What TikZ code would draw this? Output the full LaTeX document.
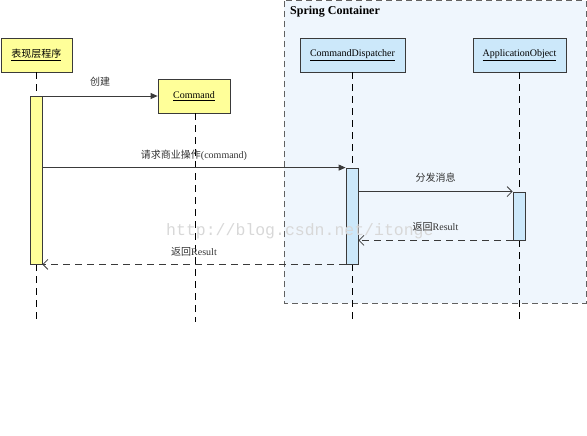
\documentclass[tikz,border=0pt]{standalone}
\usepackage{fontspec}
\setmainfont{Liberation Serif}
\newfontfamily\cjk{Noto Sans CJK SC}
\newfontfamily\wmfont{Liberation Mono}
\usetikzlibrary{arrows.meta}
\definecolor{yel}{HTML}{FFFF99}
\definecolor{blu}{HTML}{CCE8FA}
\definecolor{cont}{HTML}{EFF6FD}
\definecolor{edge}{HTML}{3A3A3A}
\definecolor{wm}{HTML}{D8D8D8}
\tikzset{
  objbox/.style={draw=edge, line width=0.8pt, minimum height=34pt, inner sep=0pt, font=\fontsize{10}{12}\selectfont},
  ybox/.style={objbox, fill=yel},
  bbox/.style={objbox, fill=blu},
  lifeline/.style={draw=black, line width=0.8pt, dash pattern=on 7pt off 5pt},
  actbar/.style={draw=edge, line width=0.8pt, minimum width=12pt, inner sep=0pt},
  msg/.style={draw=edge, line width=0.8pt, -{Triangle[length=7pt,width=6pt]}},
  msgopen/.style={draw=edge, line width=0.8pt, -{Straight Barb[length=5pt,width=10pt]}},
  retmsg/.style={draw=edge, line width=0.8pt, dash pattern=on 7pt off 5pt, -{Straight Barb[length=5pt,width=10pt]}},
  lbl/.style={font=\fontsize{10}{12}\selectfont, text=black!80, inner sep=1pt},
}
\begin{document}
\begin{tikzpicture}[x=1pt,y=-1pt]
\useasboundingbox (0,0) rectangle (587,436);
% container
\draw[draw=edge!80, fill=cont, line width=1pt, dash pattern=on 6pt off 4pt] (284,1) rectangle (586,303);
\node[anchor=north west, font=\bfseries\fontsize{12}{14}\selectfont, inner sep=0pt] (ctitle) at (290,6) {Spring Container};
% objects
\node[ybox, minimum width=71pt] (pres) at (36.5,55) {\cjk\underline{表现层程序}};
\node[ybox, minimum width=72pt] (cmd) at (194,96) {\underline{Command}};
\node[bbox, minimum width=105pt] (disp) at (352.5,55) {\underline{CommandDispatcher}};
\node[bbox, minimum width=93pt] (app) at (519.5,55) {\underline{ApplicationObject}};
% lifeline ends
\coordinate (presE) at (36,322);
\coordinate (cmdE) at (195,322);
\coordinate (dispE) at (352,322);
\coordinate (appE) at (519,322);
\draw[lifeline] (pres.south -| presE) -- (presE);
\draw[lifeline] (cmd.south -| cmdE) -- (cmdE);
\draw[lifeline] (disp.south -| dispE) -- (dispE);
\draw[lifeline] (app.south -| appE) -- (appE);
% activation bars
\node[actbar, fill=yel, minimum height=168pt] (a1) at (36,180) {};
\node[actbar, fill=blu, minimum height=96pt] (a2) at (352,216) {};
\node[actbar, fill=blu, minimum height=48pt] (a3) at (519,216) {};
% watermark
\node[anchor=west, text=wm, font=\wmfont\fontsize{16.5}{18}\selectfont, inner sep=0pt] (wmark) at (166,231) {http://blog.csdn.net/itonge};
% messages
\draw[msg] (a1.east |- 0,96) -- (cmd.west |- 0,96) node[lbl, pos=0.5, above=8pt] {\cjk 创建};
\draw[msg] (a1.east |- a2.north) -- (a2.north west) node[lbl, pos=0.5, above=6pt] {\cjk 请求商业操作\rmfamily(command)};
\draw[msgopen] (a2.east |- a3.north) -- (a3.north west) node[lbl, pos=0.5, above=8pt] {\cjk 分发消息};
\draw[retmsg] (a3.south west) -- (a2.east |- a3.south) node[lbl, pos=0.5, above=8pt] {{\cjk 返回}Result};
\draw[retmsg] (a2.south west) -- (a1.south east) node[lbl, pos=0.5, above=7pt] {{\cjk 返回}Result};
\end{tikzpicture}
\end{document}
